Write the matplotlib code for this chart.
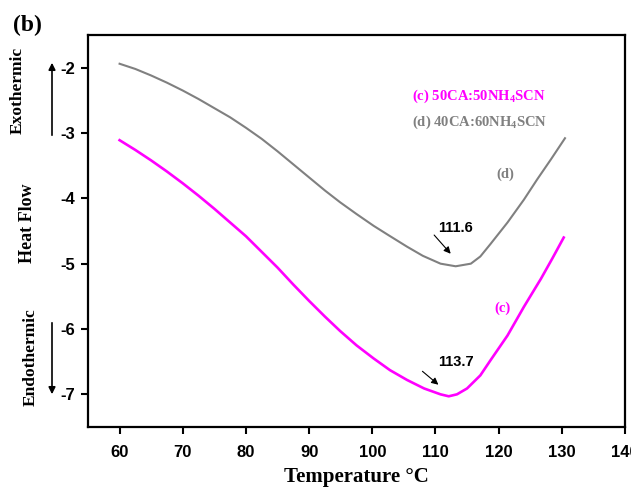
import matplotlib
matplotlib.use('Agg')
import matplotlib.pyplot as plt

# DSC curves
temp_d = [60, 62.5, 65, 67.5, 70, 72.5, 75, 77.5, 80, 82.5, 85, 87.5, 90, 92.5, 94.9, 97.5, 100.2, 102.5,
          105.5, 108, 110.8, 113.2, 115.6, 117.1, 118.7, 121.4, 124, 126.1, 128.3, 130.5]
flow_d = [-1.94, -2.02, -2.12, -2.23, -2.35, -2.48, -2.62, -2.76, -2.92, -3.09, -3.28, -3.48, -3.68, -3.88,
          -4.06, -4.24, -4.42, -4.56, -4.74, -4.88, -5.00, -5.04, -5.00, -4.89, -4.70, -4.37, -4.02, -3.71,
          -3.40, -3.08]

temp_c = [60, 62.5, 65, 67.5, 70, 72.5, 75, 77.5, 80, 82.5, 85, 87.5, 90, 92.5, 94.9, 97.5, 100.2, 102.8,
          105.5, 108.2, 110.8, 112.1, 113.4, 115, 117.1, 118.7, 121.4, 124, 126.7, 128.5, 130.3]
flow_c = [-3.11, -3.26, -3.42, -3.59, -3.77, -3.96, -4.16, -4.37, -4.58, -4.82, -5.06, -5.32, -5.57, -5.81,
          -6.03, -6.25, -6.45, -6.63, -6.78, -6.91, -7.00, -7.03, -7.00, -6.91, -6.71, -6.48, -6.10, -5.66,
          -5.23, -4.92, -4.60]

x_ticks = [60, 70, 80, 90, 100, 110, 120, 130, 140]
y_ticks = [-7, -6, -5, -4, -3, -2]
label_c = '(c) 50CA:50NH$_4$SCN'
label_d = '(d) 40CA:60NH$_4$SCN'
peak_d = '111.6'
peak_c = '113.7'

plt.rcParams['mathtext.fontset'] = 'custom'
plt.rcParams['mathtext.rm'] = 'Liberation Serif:bold'
plt.rcParams['mathtext.it'] = 'Liberation Serif:bold'
plt.rcParams['mathtext.bf'] = 'Liberation Serif:bold'

magenta = '#ff00ff'
gray = '#808080'
serif = 'Liberation Serif'
sans = 'Liberation Sans'

fig = plt.figure(figsize=(6.31, 4.9), dpi=100)
ax = fig.add_axes([88 / 631, 1 - 427 / 490, (625 - 88) / 631, (427 - 35) / 490])

ax.plot(temp_d, flow_d, color=gray, lw=1.5)
ax.plot(temp_c, flow_c, color=magenta, lw=1.9)

ax.set_xlim(55, 140)
ax.set_ylim(-7.5, -1.5)
ax.set_xticks(x_ticks)
ax.set_yticks(y_ticks)
ax.set_xticklabels([str(t) for t in x_ticks], fontfamily=sans, fontweight='bold', fontsize=12)
ax.set_yticklabels([str(t) for t in y_ticks], fontfamily=sans, fontweight='bold', fontsize=12)
ax.tick_params(direction='out', length=5, width=1.5, pad=4)
ax.tick_params(axis='x', pad=8)
for s in ax.spines.values():
    s.set_linewidth(1.6)

ax.set_xlabel('Temperature °C', fontfamily=serif, fontweight='bold', fontsize=15, labelpad=5)

# legend-like labels
ax.text(106.3, -2.44, label_c, color=magenta, fontfamily=serif, fontweight='bold', fontsize=10.5, va='center')
ax.text(106.3, -2.84, label_d, color=gray, fontfamily=serif, fontweight='bold', fontsize=10.5, va='center')
ax.text(121.1, -3.63, '(d)', color=gray, fontfamily=serif, fontweight='bold', fontsize=10.5, ha='center', va='center')
ax.text(120.6, -5.69, '(c)', color=magenta, fontfamily=serif, fontweight='bold', fontsize=10.5, ha='center', va='center')

# peak annotations
ax.annotate('', xy=(112.7, -4.88), xytext=(109.5, -4.53),
            arrowprops=dict(arrowstyle='-|>', color='black', lw=0.8, mutation_scale=10))
ax.text(113.2, -4.46, peak_d, fontfamily=sans, fontweight='bold', fontsize=10.5, ha='center', va='center')
ax.annotate('', xy=(110.8, -6.88), xytext=(107.6, -6.62),
            arrowprops=dict(arrowstyle='-|>', color='black', lw=0.8, mutation_scale=10))
ax.text(113.2, -6.5, peak_c, fontfamily=sans, fontweight='bold', fontsize=10.5, ha='center', va='center')

# left side labels and arrows
fig.text(27 / 631, 1 - 25 / 490, '(b)', fontfamily=serif, fontweight='bold', fontsize=17, ha='center', va='center')
fig.text(18 / 631, 1 - 90 / 490, 'Exothermic', fontfamily=serif, fontweight='bold', fontsize=12.5,
         rotation=90, ha='center', va='center')
fig.text(28 / 631, 1 - 223 / 490, 'Heat Flow', fontfamily=serif, fontweight='bold', fontsize=13,
         rotation=90, ha='center', va='center')
fig.text(31 / 631, 1 - 357 / 490, 'Endothermic', fontfamily=serif, fontweight='bold', fontsize=12.5,
         rotation=90, ha='center', va='center')
fig.add_artist(matplotlib.patches.FancyArrowPatch((52 / 631, 1 - 138 / 490), (52 / 631, 1 - 60 / 490),
                                                  transform=fig.transFigure, arrowstyle='-|>', color='black',
                                                  lw=1.2, mutation_scale=10))
fig.add_artist(matplotlib.patches.FancyArrowPatch((52 / 631, 1 - 320 / 490), (52 / 631, 1 - 397 / 490),
                                                  transform=fig.transFigure, arrowstyle='-|>', color='black',
                                                  lw=1.2, mutation_scale=10))

fig.savefig('out.png', dpi=100)
